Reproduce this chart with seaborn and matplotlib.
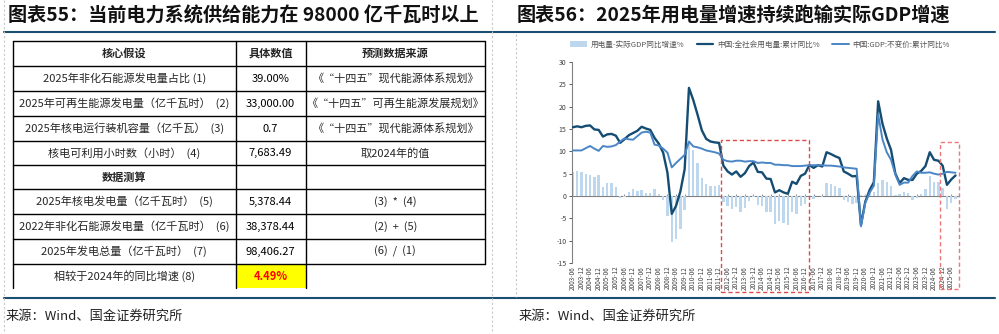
import numpy as np
import pandas as pd
import matplotlib
matplotlib.use("Agg")
import matplotlib.pyplot as plt
import seaborn as sns
from matplotlib.patches import Rectangle, Patch
from matplotlib.lines import Line2D

# ---------------- data ----------------
quarters = [str(p.year) + "-" + f"{p.quarter * 3:02d}"
            for p in pd.period_range("2003Q2", "2025Q3", freq="Q")]

elec_growth = [
    15.4, 15.6, 15.4, 15.7, 15.8, 14.9, 14.8,
    13.3, 13.8, 13.9, 13.5,
    11.9, 12.7, 13.6, 14.1,
    14.6, 15.5, 15.1, 14.8,
    13.0, 11.7, 9.7, 5.2,
    -4.0, -2.2, 1.0, 6.0,
    24.2, 21.5, 18.2, 14.7,
    12.8, 12.2, 12.0, 11.9,
    6.8, 5.5, 4.8, 5.5,
    4.3, 5.1, 6.7, 7.5,
    5.4, 5.3, 3.9, 3.8,
    0.8, 1.3, 0.8, 0.5,
    3.2, 2.7, 4.5, 5.0,
    6.9, 6.3, 6.9, 6.6,
    9.8, 9.4, 8.9, 8.5,
    5.5, 5.0, 4.4, 4.5,
    -6.5, -1.3, 1.3, 3.1,
    21.2, 16.2, 12.9, 10.3,
    5.0, 2.9, 4.0, 3.6,
    3.6, 5.0, 5.6, 6.7,
    9.8, 8.1, 7.9, 6.8,
    2.5, 3.7, 4.6]

gdp_growth = [
    10.2, 10.2, 10.2, 10.7, 11.2, 10.6, 10.1,
    11.2, 11.0, 11.1, 11.4,
    12.2, 12.9, 12.7, 12.6,
    13.4, 14.2, 14.4, 14.2,
    11.5, 11.3, 10.6, 9.7,
    6.4, 7.4, 8.3, 9.2,
    12.2, 11.1, 10.9, 10.6,
    10.2, 10.0, 9.8, 9.5,
    8.1, 7.8, 7.7, 7.9,
    7.9, 7.7, 7.8, 7.8,
    7.4, 7.5, 7.4, 7.4,
    7.0, 7.0, 6.9, 6.9,
    6.7, 6.7, 6.7, 6.8,
    6.9, 6.9, 6.9, 6.9,
    6.8, 6.8, 6.7, 6.6,
    6.4, 6.3, 6.2, 6.1,
    -6.8, -1.6, 0.7, 2.3,
    18.3, 12.7, 9.8, 8.1,
    4.8, 2.5, 3.0, 3.0,
    4.5, 5.5, 5.2, 5.2,
    5.3, 5.0, 4.8, 5.0,
    5.4, 5.3, 5.2]

gap_growth = [
    5.4, 5.5, 5.3, 5.0, 4.6, 4.3, 4.8,
    2.1, 2.8, 2.8, 2.1,
    -0.4, -0.2, 1.0, 1.5,
    1.2, 1.3, 0.7, 0.6,
    1.5, 0.4, -0.9, -4.5,
    -10.4, -9.6, -7.3, -3.2,
    12.0, 10.4, 7.3, 4.1,
    2.6, 2.2, 2.2, 2.4,
    -1.3, -2.3, -2.9, -2.4,
    -3.6, -2.6, -1.1, -0.3,
    -2.0, -2.2, -3.5, -3.6,
    -6.2, -5.7, -6.1, -6.4,
    -3.5, -4.0, -2.2, -1.8,
    0.0, -0.6, 0.0, -0.3,
    3.0, 2.6, 2.2, 1.9,
    -0.9, -1.3, -1.8, -1.6,
    0.3, 0.3, 0.6, 0.8,
    2.9, 3.5, 3.1, 2.2,
    0.2, 0.4, 1.0, 0.6,
    -0.9, -0.5, 0.4, 1.5,
    4.5, 3.1, 3.1, 1.8,
    -2.9, -1.6, -0.6]

legend_labels = ["用电量-实际GDP同比增速%", "中国:全社会用电量:累计同比%", "中国:GDP:不变价:累计同比%"]
y_ticks = [-15, -10, -5, 0, 5, 10, 15, 20, 25, 30]

table_header = ["核心假设", "具体数值", "预测数据来源"]
table_col1 = ["2025年非化石能源发电量占比 (1)",
              "2025年可再生能源发电量（亿千瓦时）  (2)",
              "2025年核电运行装机容量（亿千瓦）  (3)",
              "核电可利用小时数（小时）  (4)",
              "数据测算",
              "2025年核电发电量（亿千瓦时）  (5)",
              "2022年非化石能源发电量（亿千瓦时）  (6)",
              "2025年发电总量（亿千瓦时）  (7)",
              "相较于2024年的同比增速 (8)"]
table_col2 = ["39.00%", "33,000.00", "0.7", "7,683.49", "",
              "5,378.44", "38,378.44", "98,406.27", "4.49%"]
table_col3 = ["《“十四五”现代能源体系规划》", "《“十四五”可再生能源发展规划》",
              "《“十四五”现代能源体系规划》", "取2024年的值", "",
              "(3)  *  (4)", "(2)  +  (5)", "(6)  /  (1)", ""]

title_left = "图表55：当前电力系统供给能力在 98000 亿千瓦时以上"
title_right = "图表56：2025年用电量增速持续跑输实际GDP增速"
source_text = "来源：Wind、国金证券研究所"

df = pd.DataFrame({"date": quarters, "idx": np.arange(len(quarters)),
                   "elec": elec_growth, "gdp": gdp_growth, "gap": gap_growth})

# ---------------- style ----------------
sns.set_theme(style="white")
plt.rcParams["font.family"] = ["Noto Sans CJK SC", "DejaVu Sans"]
plt.rcParams["axes.unicode_minus"] = False

C_DARK = "#144C72"
C_GDP = "#4A86C6"
C_BAR = "#BDD7EE"
C_LINE = "#1B4F72"
C_GRAY = "#808080"

W, H = 999, 334
fig = plt.figure(figsize=(W / 100, H / 100), dpi=100)

# overlay axes in pixel coordinates
ov = fig.add_axes([0, 0, 1, 1])
ov.set_xlim(0, W)
ov.set_ylim(H, 0)
ov.axis("off")
ov.patch.set_alpha(0)

# panel frames
ov.plot([4, 995], [32, 32], color=C_LINE, lw=1.5)
ov.plot([4, 995], [298, 298], color=C_LINE, lw=1.5)
for x0, y0, y1 in [(4, 0, 334), (492, 0, 334), (516, 34, 297)]:
    ov.plot([x0, x0], [y0, y1], color="#C8C8C8", lw=0.8, ls=(0, (2, 2)))

ov.text(8, 16, title_left, fontsize=13.8, fontweight="bold", va="center", ha="left", color="#111111")
ov.text(517, 16, title_right, fontsize=13.8, fontweight="bold", va="center", ha="left", color="#111111")
ov.text(6, 316, source_text, fontsize=9.5, va="center", ha="left", color="#222222")
ov.text(519, 316, source_text, fontsize=9.5, va="center", ha="left", color="#222222")

# table
rows_y = [41, 66, 91, 116, 141, 165, 189, 214, 239, 264, 288]
cols_x = [13, 235.5, 305.5, 485]
ov.add_patch(Rectangle((cols_x[1], rows_y[-2]), cols_x[2] - cols_x[1], rows_y[-1] - rows_y[-2],
                       facecolor="#FFFF00", edgecolor="none"))
for y in rows_y[:-1]:
    ov.plot([cols_x[0], cols_x[3]], [y, y], color="black", lw=1.0)
for x in cols_x[:3]:
    ov.plot([x, x], [rows_y[0], rows_y[-1]], color="black", lw=1.0)
ov.plot([cols_x[3], cols_x[3]], [rows_y[0], rows_y[-2]], color="black", lw=1.0)

cx = [(cols_x[i] + cols_x[i + 1]) / 2 for i in range(3)]
yc = (rows_y[0] + rows_y[1]) / 2
for j, t in enumerate(table_header):
    ov.text(cx[j], yc, t, fontsize=8, fontweight="bold", ha="center", va="center")
for i in range(len(table_col1)):
    yc = (rows_y[i + 1] + rows_y[i + 2]) / 2
    bold = table_col1[i] == "数据测算"
    ov.text(cx[0], yc, table_col1[i], fontsize=8, ha="center", va="center",
            fontweight="bold" if bold else "normal")
    last = i == len(table_col1) - 1
    ov.text(cx[1], yc, table_col2[i], fontsize=8, ha="center", va="center",
            color="#FF0000" if last else "black", fontweight="bold" if last else "normal")
    ov.text(cx[2], yc, table_col3[i], fontsize=8, ha="center", va="center")

# ---------------- chart ----------------
ax_left, ax_right = 572, 957.7
ax = fig.add_axes([ax_left / W, 1 - 263 / H, (ax_right - ax_left) / W, 201 / H])
ax.patch.set_alpha(0)

sns.barplot(data=df, x="idx", y="gap", native_scale=True, color=C_BAR, saturation=1,
            width=0.55, errorbar=None, ax=ax, zorder=1, linewidth=0, edgecolor="none")
sns.lineplot(data=df, x="idx", y="elec", color=C_DARK, lw=1.7, ax=ax, zorder=3)
sns.lineplot(data=df, x="idx", y="gdp", color=C_GDP, lw=1.4, ax=ax, zorder=4)

ax.set_xlim(-0.2, 89.5)
ax.set_ylim(-15, 30)
ax.set_xlabel("")
ax.set_ylabel("")
ax.set_yticks(y_ticks)
ax.set_yticklabels([str(v) for v in y_ticks])
tick_idx = list(range(0, len(quarters), 2))
ax.set_xticks(tick_idx)
ax.set_xticklabels([quarters[i] for i in tick_idx], rotation=90, fontsize=4.6, color="#404040")
ax.tick_params(axis="x", length=0, pad=2)
ax.tick_params(axis="y", labelsize=5, colors="#404040", length=2, width=0.6, pad=2, left=True)
for s in ["top", "right", "bottom"]:
    ax.spines[s].set_visible(False)
ax.spines["left"].set_color(C_GRAY)
ax.spines["left"].set_linewidth(0.8)

sec = ax.secondary_xaxis(15 / 45)
sec.set_xticks(tick_idx)
sec.set_xticklabels([])
sec.tick_params(length=1.8, width=0.6, color=C_GRAY, direction="in")
for s in sec.spines.values():
    s.set_color(C_GRAY)
    s.set_linewidth(0.8)

ax.add_patch(Rectangle((34.45, -21.5), 20.45, 34.0, fill=False, ec="#E04848",
                       lw=1.0, ls=(0, (3, 2)), clip_on=False, zorder=5))
ax.add_patch(Rectangle((85.4, -20.8), 4.4, 32.9, fill=False, ec="#EE7777",
                       lw=1.0, ls=(0, (3, 2)), clip_on=False, zorder=5))

handles = [Patch(facecolor=C_BAR, edgecolor="none"),
           Line2D([], [], color=C_DARK, lw=1.6),
           Line2D([], [], color=C_GDP, lw=1.4)]
fig.legend(handles, legend_labels, loc="center", bbox_to_anchor=(760 / W, 1 - 45 / H),
           ncol=3, frameon=False, fontsize=5.5, handlelength=2.2, handleheight=0.8,
           columnspacing=1.6, handletextpad=0.5, labelcolor="#555555")

fig.savefig("out.png", dpi=100)
